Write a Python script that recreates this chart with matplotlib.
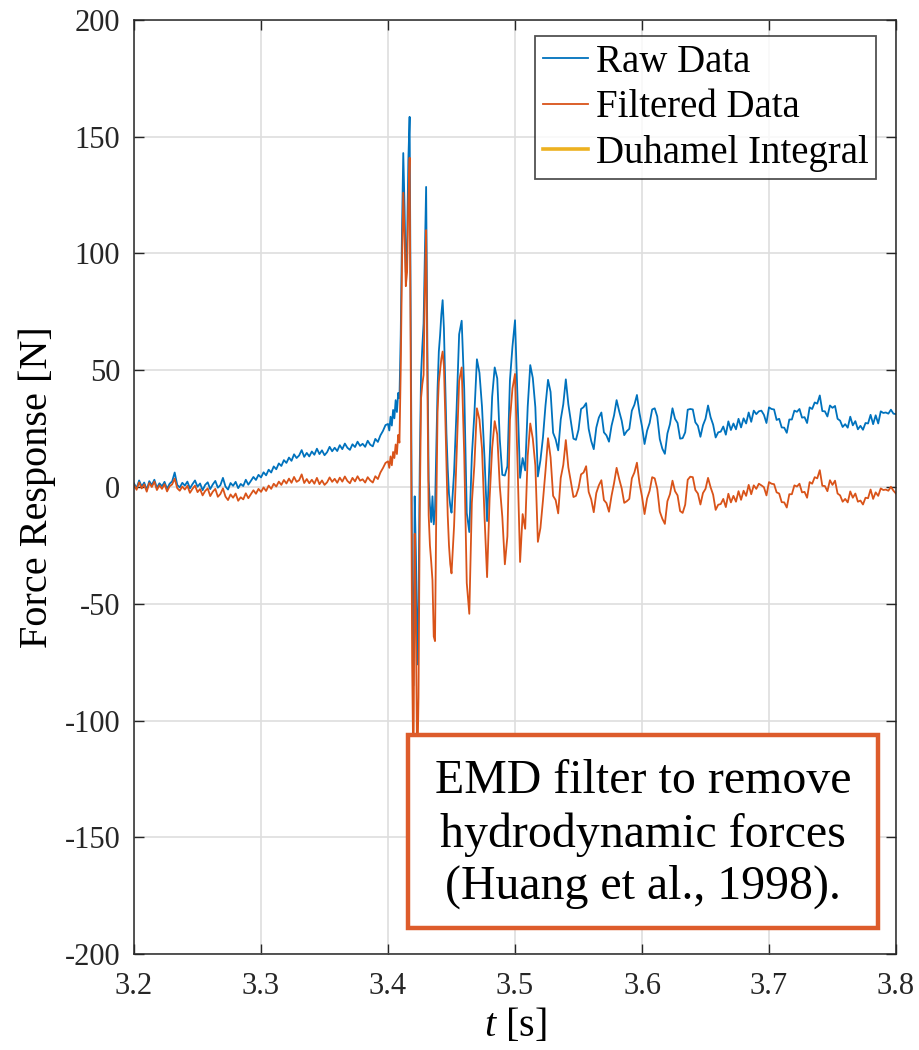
import numpy as np
import matplotlib.pyplot as plt
from matplotlib.patches import Rectangle

plt.rcParams['font.family'] = ['Liberation Serif', 'DejaVu Serif']
plt.rcParams['mathtext.fontset'] = 'custom'
plt.rcParams['mathtext.rm'] = 'Liberation Serif'
plt.rcParams['mathtext.it'] = 'Liberation Serif:italic'
plt.rcParams['axes.unicode_minus'] = False

# --- force record, three pieces with their own sample step ---
# pre-impact, 3.200 - 3.398 s, dt = 2 ms
raw_pre = [
    1.5, -0.5, 2.8, 0.2, 1.9, -1.2, 2.5, 0.8, 3.1, -0.4,
    1.6, 0.3, 2.2, -0.8, 1.4, 2.4, 6.2, 0.9, -0.2, 1.8,
    0.6, 2.3, -0.6, 1.2, 2.8, 0.1, 1.5, -1.4, 0.9, 2.0,
    -0.9, 1.1, 2.6, -0.3, 0.8, 3.9, 0.2, -1.1, 1.7, 0.5,
    2.2, -0.5, 1.3, 0.4, 3.1, 1.0, 2.6, 4.3, 3.0, 5.2,
    4.1, 6.3, 5.0, 7.4, 6.2, 8.8, 7.6, 10.1, 9.0, 11.5,
    10.3, 12.6, 11.2, 14.0, 12.4, 13.5, 15.8, 12.9, 14.6, 13.1,
    15.2, 13.8, 16.4, 14.1, 15.7, 13.6, 14.9, 17.2, 15.3, 16.8,
    15.4, 17.9, 16.2, 18.6, 16.8, 15.9, 18.3, 17.1, 19.4, 17.6,
    18.5, 17.2, 19.8, 18.1, 17.4, 20.6, 19.3, 22.1, 24.0, 26.5,
]
filt_pre = [
    0.9, -1.2, 2.0, -0.6, 1.1, -2.0, 1.7, 0.0, 2.3, -1.3,
    0.7, -0.8, 1.2, -1.9, 0.3, 1.1, 3.6, -0.5, -1.6, 0.2,
    -1.1, 0.5, -2.5, -0.8, 0.6, -2.2, -0.9, -3.6, -1.7, -0.6,
    -3.9, -2.0, -0.8, -4.2, -3.0, -0.6, -4.1, -5.6, -3.2, -4.6,
    -2.8, -5.9, -4.4, -5.3, -2.7, -4.8, -3.1, -1.4, -2.9, -0.8,
    -2.1, -0.2, -1.7, 0.6, -0.8, 1.4, 0.2, 2.3, 0.9, 3.0,
    1.5, 3.6, 1.8, 4.3, 2.2, 2.9, 5.4, 1.7, 3.4, 1.6,
    3.1, 1.4, 3.9, 1.2, 2.8, 0.9, 2.0, 4.1, 2.2, 3.5,
    1.8, 4.0, 2.3, 4.5, 2.6, 1.6, 3.9, 2.4, 4.6, 2.7,
    3.3, 1.9, 4.2, 2.8, 1.9, 4.6, 3.4, 6.2, 8.1, 10.3,
]

# impact, 3.400 - 3.450 s, dt = 1 ms
raw_hit = [
    27.0, 24.2, 30.1, 26.3, 33.0, 29.4, 37.2, 32.1, 40.3, 38.0,
    65.0, 110.0, 143.0, 120.0, 92.0, 104.0, 140.0, 158.5, 60.0, -40.0,
    -85.0, -4.0, -30.0, -76.0, -50.0, 10.0, 48.0, 60.0, 70.0, 100.0,
    128.5, 60.0, 3.0, -8.0, -15.0, -4.0, -16.0, -10.0, 15.0, 42.0,
    58.0, 65.0, 74.0, 80.0, 68.0, 45.0, 23.0, 8.0, -3.0, -8.0,
    -11.0,
]
filt_hit = [
    11.0, 8.2, 13.1, 9.3, 15.0, 12.4, 18.2, 14.1, 22.3, 19.0,
    50.0, 95.0, 126.0, 108.0, 86.0, 92.0, 122.0, 141.0, 40.0, -75.0,
    -125.0, -20.0, -60.0, -125.0, -90.0, -10.0, 38.0, 44.0, 48.0, 85.0,
    110.0, 45.0, -12.0, -25.0, -32.0, -40.0, -64.0, -66.0, -10.0, 32.0,
    45.0, 50.0, 55.0, 58.0, 52.0, 32.0, 9.0, -12.0, -25.0, -33.0,
    -37.0,
]

# ring-down, 3.452 - 3.800 s, dt = 2 ms
raw_post = [
    6.2, 33.5, 65.4, 71.2, 41.9, -11.1, -19.3, 13.2, 31.4, 54.7,
    48.9, 34.4, 12.1, -14.6, 12.2, 38.7, 51.2, 46.5, 20.4, 5.2,
    4.9, 8.9, 45.7, 60.2, 71.4, 37.7, 3.9, 12.4, 7.1, 34.4,
    52.2, 46.7, 34.2, 4.5, 11.4, 21.2, 34.9, 45.9, 40.7, 23.2,
    20.4, 15.7, 28.9, 35.4, 46.1, 35.4, 28.2, 20.7, 20.2, 24.5,
    33.4, 34.2, 35.9, 24.9, 19.7, 16.2, 25.4, 29.7, 31.9, 23.4,
    22.1, 19.4, 26.2, 30.7, 37.2, 32.5, 28.4, 22.2, 23.9, 24.9,
    32.7, 35.2, 39.4, 31.7, 25.9, 18.4, 24.1, 27.4, 33.2, 33.7,
    30.2, 20.5, 16.4, 14.2, 22.9, 26.9, 33.7, 29.2, 27.4, 20.7,
    20.9, 23.4, 33.1, 33.4, 33.2, 27.7, 26.2, 21.5, 26.4, 29.2,
    34.9, 29.9, 26.7, 21.2, 23.4, 23.7, 25.9, 22.4, 28.1, 24.4,
    27.2, 24.7, 29.2, 25.5, 29.4, 27.2, 31.9, 27.9, 32.7, 31.2,
    32.4, 32.7, 30.9, 27.4, 34.1, 33.4, 33.2, 28.7, 29.2, 25.5,
    25.4, 23.2, 28.9, 28.9, 32.7, 32.2, 33.4, 29.7, 29.9, 27.4,
    34.1, 33.4, 36.2, 35.7, 39.2, 32.5, 32.4, 30.2, 34.9, 33.9,
    34.7, 29.2, 28.4, 25.7, 26.9, 25.4, 30.1, 26.4, 28.2, 24.7,
    26.2, 24.5, 27.4, 27.2, 30.9, 26.9, 30.7, 27.2, 32.4, 31.7,
    31.9, 31.4, 33.1, 31.4, 31.2,
]
filt_post = [
    -16.8, 13.5, 45.4, 51.2, 13.9, -41.1, -54.3, -6.8, 9.4, 33.7,
    28.9, 16.4, -12.9, -38.6, -4.8, 16.7, 28.2, 22.5, 0.4, -12.8,
    -33.1, -21.1, 28.7, 42.2, 48.4, 9.7, -32.1, -11.6, -17.9, 13.4,
    27.2, 20.7, 9.2, -23.5, -17.6, -5.8, 6.9, 20.9, 12.7, -3.8,
    -5.6, -11.3, 3.9, 9.4, 20.1, 8.4, 2.2, -4.3, -3.8, -0.5,
    5.4, 6.2, 8.9, -2.1, -5.3, -10.8, -2.6, 0.7, 2.9, -5.6,
    -6.9, -10.6, -3.8, 1.7, 8.2, 3.5, -0.6, -6.8, -6.1, -5.1,
    3.7, 6.2, 10.4, 1.7, -4.1, -11.6, -4.9, -1.6, 4.2, 3.7,
    -0.8, -10.5, -13.6, -15.8, -6.1, -3.1, 2.7, -1.8, -3.6, -10.3,
    -11.1, -7.6, 3.1, 4.4, 4.2, -1.3, -2.8, -7.5, -2.6, -0.8,
    3.9, -0.1, -3.3, -9.8, -7.6, -7.3, -5.1, -8.6, -2.9, -6.6,
    -3.8, -6.3, -1.8, -5.5, -1.6, -3.8, 0.9, -3.1, 0.7, -0.8,
    1.4, 0.7, -0.1, -3.6, 2.1, 1.4, 1.2, -2.3, -2.8, -6.5,
    -6.6, -8.8, -3.1, -3.1, 0.7, 0.2, 1.4, -2.3, -2.1, -4.6,
    2.1, 1.4, 4.2, 3.7, 7.2, 0.5, 0.4, -1.8, 2.9, 0.9,
    2.7, -2.8, -3.6, -6.3, -5.1, -6.6, -1.9, -4.6, -2.8, -6.3,
    -5.8, -7.5, -4.6, -4.8, -1.1, -5.1, -2.3, -3.8, -0.6, -1.3,
    -1.1, -1.6, 0.1, -1.6, -2.8,
]

t = np.concatenate([
    3.200 + 0.002 * np.arange(len(raw_pre)),
    3.400 + 0.001 * np.arange(len(raw_hit)),
    3.452 + 0.002 * np.arange(len(raw_post)),
])
raw = np.array(raw_pre + raw_hit + raw_post)
filtered = np.array(filt_pre + filt_hit + filt_post)

fig = plt.figure(figsize=(9.2, 10.5), dpi=100)
ax = fig.add_axes([0.1457, 0.0914, 0.8282, 0.8896])

ax.plot(t, raw, color='#0072BD', lw=1.3, label='Raw Data')
ax.plot(t, filtered, color='#D95319', lw=1.3, label='Filtered Data')
ax.plot([], [], color='#EDB120', lw=2.6, label='Duhamel Integral')

ax.set_xlim(3.2, 3.8)
ax.set_ylim(-200, 200)
ax.set_xticks(np.arange(3.2, 3.81, 0.1))
ax.set_yticks(np.arange(-200, 201, 50))
ax.set_xticklabels(['3.2', '3.3', '3.4', '3.5', '3.6', '3.7', '3.8'])
ax.grid(True, color='#dedede', lw=1.2)
ax.set_axisbelow(True)
ax.tick_params(direction='in', length=7, width=1, top=True, right=True,
               labelsize=22, colors='#262626')
ax.tick_params(axis='x', pad=13)
ax.tick_params(axis='y', pad=10)
for s in ax.spines.values():
    s.set_color('#262626')
    s.set_linewidth(1.1)

ax.set_xlabel(r'$t$ [s]', fontsize=29, labelpad=4)
ax.set_ylabel('Force Response [N]', fontsize=29, labelpad=6)

leg = ax.legend(loc='upper right', bbox_to_anchor=(0.974, 0.983), fontsize=28,
                frameon=True, fancybox=False, handlelength=1.15, handletextpad=0.2,
                borderpad=0.2, labelspacing=0.22, borderaxespad=0)
leg.get_frame().set_edgecolor('#262626')
leg.get_frame().set_linewidth(1.3)

# annotation box over the lower right of the plot
ax.add_patch(Rectangle((0.3596, 0.0278), 0.6164, 0.2067, transform=ax.transAxes,
                       facecolor='white', edgecolor='#DD5C2B', lw=3.2, zorder=5))
ax.text(0.668, 0.128, 'EMD filter to remove\nhydrodynamic forces\n(Huang et al., 1998).',
        transform=ax.transAxes, ha='center', va='center', fontsize=34.5,
        linespacing=1.25, zorder=6)

fig.savefig('out.png', dpi=100)
